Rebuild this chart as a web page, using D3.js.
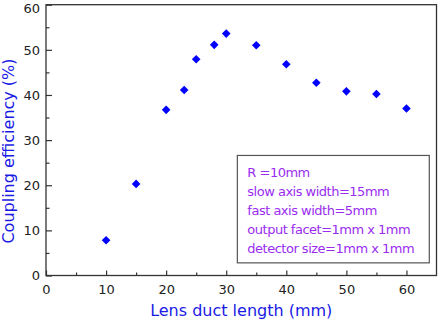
<!DOCTYPE html>
<html><head><meta charset="utf-8">
<script src="https://cdn.jsdelivr.net/npm/d3@7"></script>
<style>body{margin:0;background:#fff}svg{display:block}</style>
</head><body>
<svg id="c" width="440" height="324"></svg>
<script>
const lengths = [10, 15, 20, 23, 25, 28, 30, 35, 40, 45, 50, 55, 60];
const efficiency = [7.8, 20.3, 36.7, 41.1, 47.9, 51.1, 53.6, 51.0, 46.8, 42.7, 40.8, 40.2, 37.0];
const xTicks = [0, 10, 20, 30, 40, 50, 60];
const yTicks = [0, 10, 20, 30, 40, 50, 60];
const legendLines = ["R =10mm", "slow axis width=15mm", "fast axis width=5mm", "output facet=1mm x 1mm", "detector size=1mm x 1mm"];
const xTitle = "Lens duct length (mm)";
const yTitle = "Coupling efficiency (%)";

const svg = d3.select("#c");
const L = 46, R = 436.5, T = 4.7, B = 275.5;
const x = d3.scaleLinear().domain([0, 65]).range([L, R]);
const y = d3.scaleLinear().domain([0, 60]).range([B, T]);
const font = "DejaVu Sans, sans-serif";
const axisColor = "#333";

// frame
svg.append("rect").attr("x", L).attr("y", T).attr("width", R - L).attr("height", B - T)
  .attr("fill", "none").attr("stroke", axisColor).attr("stroke-width", 1.3);

// bottom axis
const xAxis = svg.append("g").attr("transform", `translate(0,${B})`)
  .call(d3.axisBottom(x).tickValues(xTicks).tickSize(-5).tickPadding(9).tickFormat(d3.format("d")));
const xMinor = svg.append("g").attr("transform", `translate(0,${B})`)
  .call(d3.axisBottom(x).tickValues(d3.range(5, 65, 10)).tickSize(-3).tickFormat(""));
// left axis
const yAxis = svg.append("g").attr("transform", `translate(${L},0)`)
  .call(d3.axisLeft(y).tickValues(yTicks).tickSize(-6).tickPadding(6).tickFormat(d3.format("d")));
const yMinor = svg.append("g").attr("transform", `translate(${L},0)`)
  .call(d3.axisLeft(y).tickValues(d3.range(5, 60, 10)).tickSize(-3.5).tickFormat(""));

[xAxis, xMinor, yAxis, yMinor].forEach(g => {
  g.select(".domain").remove();
  g.selectAll("line").attr("stroke", axisColor).attr("stroke-width", 1.2);
  g.selectAll("text").attr("font-family", font).attr("font-size", 13).attr("fill", "#222");
});
xAxis.selectAll("text").attr("dy", "0.71em");
yAxis.selectAll("text").filter(d => d === 60).attr("dy", "0.58em");

// points
svg.append("g").selectAll("path").data(lengths).join("path")
  .attr("d", d3.symbol(d3.symbolSquare, 37))
  .attr("transform", (d, i) => `translate(${x(d)},${y(efficiency[i])}) rotate(45)`)
  .attr("fill", "#0000ff");

// legend box
const lx = x(31.85), ly = y(26.6), lw = x(63.8) - x(31.85), lh = y(2.8) - y(26.6);
svg.append("rect").attr("x", lx).attr("y", ly).attr("width", lw).attr("height", lh)
  .attr("fill", "#fff").attr("stroke", "#555").attr("stroke-width", 1.2);
svg.append("g").selectAll("text").data(legendLines).join("text")
  .attr("x", lx + 10).attr("y", (d, i) => ly + 22 + i * 19)
  .attr("font-family", font).attr("font-size", 13).attr("fill", "#9a2cf0")
  .attr("letter-spacing", -0.5)
  .text(d => d);

// titles
svg.append("text").attr("x", (L + R) / 2).attr("y", 316).attr("text-anchor", "middle")
  .attr("font-family", font).attr("font-size", 16).attr("fill", "#1a1ae6").text(xTitle);
svg.append("text").attr("transform", "translate(14,151) rotate(-90)").attr("text-anchor", "middle")
  .attr("font-family", font).attr("font-size", 16).attr("fill", "#1a1ae6").text(yTitle);
</script>
</body></html>
